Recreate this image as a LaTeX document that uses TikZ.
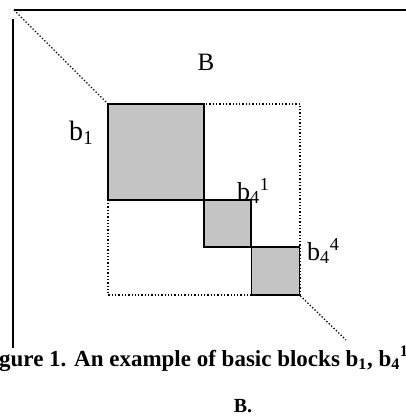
\documentclass[tikz,border=0pt]{standalone}
\usepackage{fontspec}
\setmainfont{Liberation Serif}
\usetikzlibrary{positioning}
\definecolor{shade}{HTML}{C4C4C4}
\tikzset{
  blkbox/.style={draw=black, line width=1.7pt, fill=shade, minimum size=#1, inner sep=0pt},
  dotline/.style={dotted, line width=1.3pt},
  rim/.style={line width=1.6pt},
  lbl/.style={font=\fontsize{26}{28}\selectfont, inner sep=0pt},
  captext/.style={font=\fontsize{23}{25}\selectfont\bfseries, inner sep=0pt},
}
\begin{document}
\begin{tikzpicture}[x=1pt, y=-1pt]
\useasboundingbox (0,0) rectangle (406,417);
\clip (0,0) rectangle (406,417);
% outer matrix B
\coordinate (tl) at (14,10);
\coordinate (tr) at (406,10);
\coordinate (lt) at (13,19);
\coordinate (lb) at (13,348);
\draw[rim] (tl) -- (tr);
\draw[rim] (lt) -- (lb);
% dotted sub-matrix
\draw[dotline] (108,104) rectangle (300,295);
% basic blocks
\node[blkbox=96pt] (b1) at (156,152) {};
\node[blkbox=47pt] (b41) at (227.5,223.5) {};
\node[blkbox=48pt] (b44) at (275.5,271) {};
\coordinate (br) at (346,340);
\draw[dotline] (tl) -- (b1.north west);
\draw[dotline] (b44.south east) -- (br);
% labels
\node[lbl, font=\fontsize{25}{27}\selectfont, anchor=base] (lB) at (206,71) {B};
\node[lbl, font=\fontsize{28}{30}\selectfont, anchor=base west] (lb1) at (69,140) {b\textsubscript{1}};
\node[lbl, anchor=base west] (lb41) at (237,200) {b\textsubscript{4}\textsuperscript{1}};
\node[lbl, anchor=base west] (lb44) at (307,260) {b\textsubscript{4}\textsuperscript{4}};
% caption
\node[captext, anchor=base west] (cap1) at (-1,366) {gure 1. An example of basic blocks b\textsubscript{1}, b\textsubscript{4}\textsuperscript{1}};
\node[captext, font=\fontsize{20}{22}\selectfont\bfseries, anchor=base] (cap2) at (243,412) {B.};
\end{tikzpicture}
\end{document}
